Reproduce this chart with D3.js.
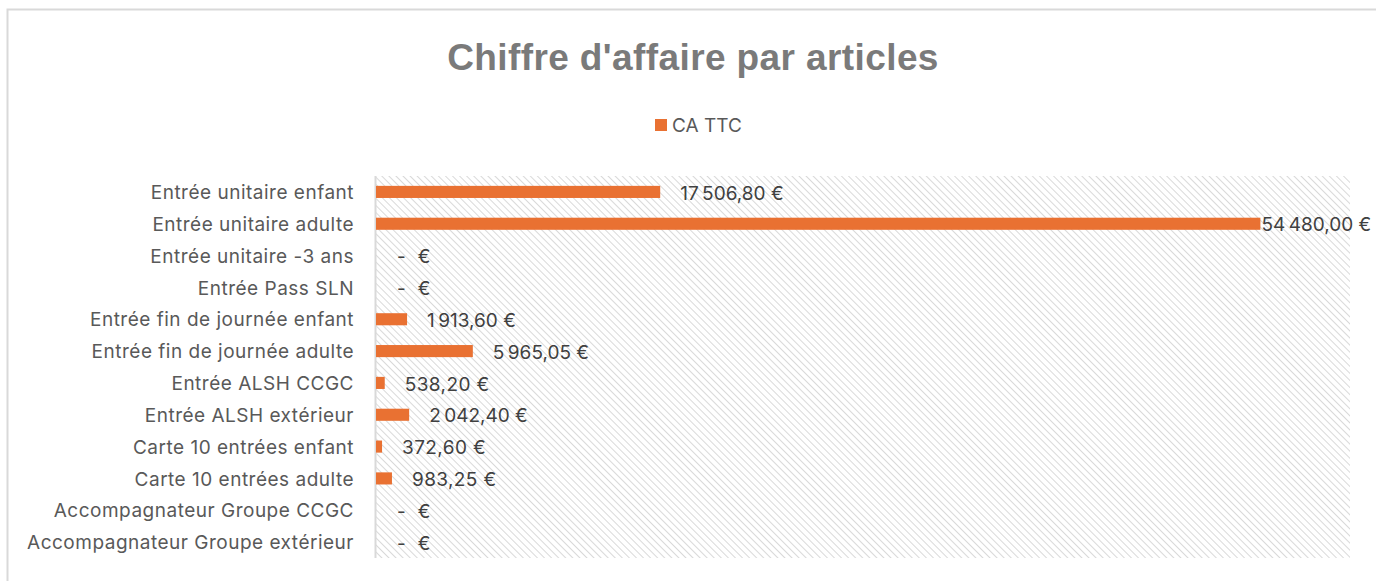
<!DOCTYPE HTML>
<html>
  <head>
    <script src="https://d3js.org/d3.v7.min.js"></script>
    <style>
      body, html {
        margin: 0;
        background: white;
      }
      text {
        font-family: 'Inter', 'Roboto', sans-serif;
      }
      text.title {
        font-family: 'Liberation Sans', Arial, sans-serif;
        font-size: 37px;
        font-weight: bold;
        letter-spacing: 0.4px;
        fill: #7a7a7a;
      }
      .cat text {
        font-size: 19px;
        letter-spacing: 0.5px;
        fill: #595959;
      }
      .label {
        font-size: 19px;
        letter-spacing: 0.4px;
        fill: #404040;
      }
    </style>
  </head>
  <body>
    <div id="chart"></div>
    <script>
      var categories = ["Entrée unitaire enfant", "Entrée unitaire adulte", "Entrée unitaire -3 ans",
        "Entrée Pass SLN", "Entrée fin de journée enfant", "Entrée fin de journée adulte",
        "Entrée ALSH CCGC", "Entrée ALSH extérieur", "Carte 10 entrées enfant",
        "Carte 10 entrées adulte", "Accompagnateur Groupe CCGC", "Accompagnateur Groupe extérieur"];
      var values = [17506.80, 54480.00, 0, 0, 1913.60, 5965.05, 538.20, 2042.40, 372.60, 983.25, 0, 0];
      var seriesName = "CA TTC";

      var W = 1376, H = 581;
      var svg = d3.select("#chart").append("svg")
        .attr("width", W)
        .attr("height", H);

      // hatch pattern for plot area
      var pat = svg.append("defs").append("pattern")
        .attr("id", "hatch")
        .attr("patternUnits", "userSpaceOnUse")
        .attr("width", 5).attr("height", 5)
        .attr("patternTransform", "rotate(-45)");
      pat.append("rect").attr("width", 5).attr("height", 5).attr("fill", "white");
      pat.append("line")
        .attr("x1", 0).attr("y1", 0).attr("x2", 0).attr("y2", 5)
        .attr("stroke", "#d9d9d9").attr("stroke-width", 2);

      // chart frame
      svg.append("rect")
        .attr("x", 7.5).attr("y", 9.5)
        .attr("width", W + 20).attr("height", H + 20)
        .attr("fill", "white")
        .attr("stroke", "#d9d9d9")
        .attr("stroke-width", 2);

      var plotLeft = 376, plotRight = 1350, plotTop = 176, plotBottom = 558;

      var x = d3.scaleLinear().domain([0, 60000]).range([plotLeft, plotRight]);
      var y = d3.scaleBand().domain(categories).range([plotTop, plotBottom]).paddingInner(0.62).paddingOuter(0.31);

      svg.append("rect")
        .attr("x", plotLeft).attr("y", plotTop)
        .attr("width", plotRight - plotLeft).attr("height", plotBottom - plotTop)
        .attr("fill", "url(#hatch)");

      svg.append("line")
        .attr("x1", plotLeft - 0.5).attr("x2", plotLeft - 0.5)
        .attr("y1", plotTop).attr("y2", plotBottom)
        .attr("stroke", "#d9d9d9").attr("stroke-width", 2);

      var yAxis = svg.append("g")
        .attr("class", "cat")
        .attr("transform", "translate(" + (plotLeft - 22) + ",1)")
        .call(d3.axisLeft(y).tickSize(0).tickPadding(0));
      yAxis.select(".domain").remove();

      svg.append("g").selectAll("rect")
        .data(values)
        .enter()
        .append("rect")
          .attr("x", x(0))
          .attr("y", (d, i) => y(categories[i]))
          .attr("width", d => x(d) - x(0))
          .attr("height", y.bandwidth())
          .attr("fill", "#e97132");

      var fmt = d3.formatLocale({decimal: ",", thousands: "\u202f", grouping: [3], currency: ["", " €"]}).format(",.2f");

      // labels near the axis end sit right at the bar end
      svg.append("g").selectAll("text")
        .data(values)
        .enter()
        .append("text")
          .attr("class", "label")
          .attr("x", d => d === 0 ? x(0) + 21 : (x(d) > 1200 ? x(d) + 1 : x(d) + 20))
          .attr("y", (d, i) => y(categories[i]) + y.bandwidth() / 2 + 1)
          .attr("dy", "0.35em")
          .attr("xml:space", "preserve")
          .text(d => d === 0 ? "-  €" : fmt(d) + " €");

      svg.append("text")
        .attr("class", "title")
        .attr("x", 693).attr("y", 70)
        .attr("text-anchor", "middle")
        .text("Chiffre d'affaire par articles");

      var leg = svg.append("g").attr("transform", "translate(655,125)");
      leg.append("rect")
        .attr("x", 0).attr("y", -6).attr("width", 12).attr("height", 12)
        .attr("fill", "#e97132");
      leg.append("text")
        .attr("x", 17).attr("y", 0)
        .attr("dy", "0.35em")
        .attr("font-size", "19px")
        .attr("fill", "#595959")
        .text(seriesName);
    </script>
  </body>
</html>
